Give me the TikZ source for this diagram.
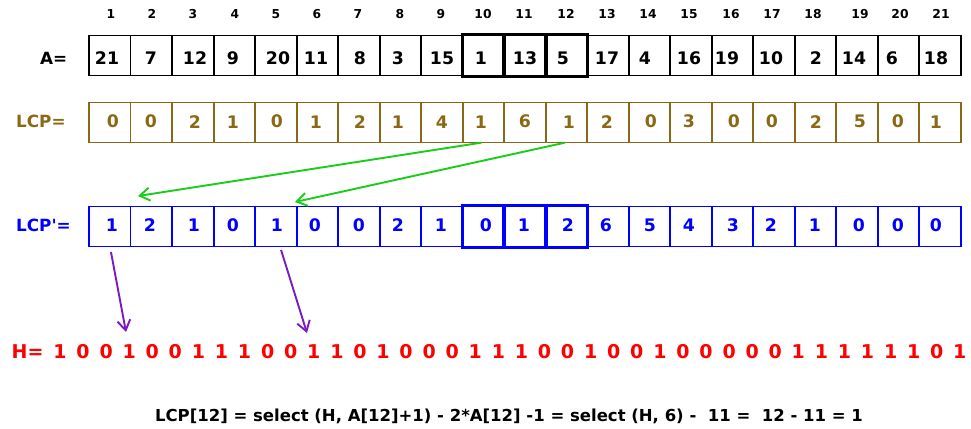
\documentclass[tikz,border=0pt]{standalone}
\usepackage{fontspec}
\setmainfont[Ligatures=TeXOff]{DejaVu Sans}
\usetikzlibrary{arrows.meta}
\definecolor{lcpbrown}{RGB}{139,105,20}
\definecolor{lcpblue}{RGB}{0,0,255}
\definecolor{hred}{RGB}{255,0,0}
\definecolor{mapgreen}{RGB}{25,205,25}
\definecolor{mappurple}{RGB}{125,25,195}
\begin{document}
\begin{tikzpicture}[x=1pt,y=-1pt,
  cellbox/.style={draw, line width=1.9pt, minimum width=41.52pt, minimum height=40pt, inner sep=0pt},
  thickcell/.style={line width=2.3pt},
  idx/.style={font=\bfseries\fontsize{12.3}{14}\selectfont, inner sep=0pt},
  val/.style={font=\bfseries\fontsize{17.3}{20}\selectfont, inner sep=0pt},
  rowlabel/.style={font=\bfseries\fontsize{16.8}{20}\selectfont, inner sep=0pt, anchor=west},
  link/.style={line width=1.9pt, -{Straight Barb[length=10pt,width=13pt]}},
]
\useasboundingbox (0,0) rectangle (971,428);

% position numbers
\foreach \x [count=\i] in {111,152,193,235,276,317,358,400,441,483,524,566,607,648,689,731,772,813,860,900,941}
  \node[idx] (i\i) at (\x,14.2) {\i};

% suffix array A
\node[rowlabel] (labA) at (40,58.5) {A=};
\foreach \i in {1,...,21}
  \node[cellbox] (a\i) at ({89+41.52*(\i-0.5)},55.5) {};
\foreach \i in {10,11,12}
  \draw[thickcell] (a\i.north west) rectangle (a\i.south east);
\foreach \v/\x [count=\i] in {21/107,7/151,12/195,9/233,20/278,11/316,8/360,3/398,15/442,1/481,13/525,5/563,17/607,4/645,16/689,19/727,10/771,2/816,14/854,6/892,18/936}
  \node[val] (av\i) at (\x,58) {\v};

% LCP array
\node[rowlabel, text=lcpbrown] (labL) at (16,121.5) {LCP=};
\foreach \i in {1,...,21}
  \node[cellbox, draw=lcpbrown] (l\i) at ({89+41.52*(\i-0.5)},122.5) {};
\foreach \v/\x [count=\i] in {0/113,0/151,2/195,1/233,0/277,1/316,2/360,1/398,4/442,1/481,6/525,1/569,2/607,0/651,3/689,0/734,0/772,2/816,5/860,0/898,1/936}
  \node[val, text=lcpbrown] (lv\i) at (\x,121.7) {\v};

% permuted LCP array
\node[rowlabel, text=lcpblue] (labP) at (16,225.5) {LCP'=};
\foreach \i in {1,...,21}
  \node[cellbox, draw=lcpblue] (p\i) at ({89+41.52*(\i-0.5)},226.5) {};
\foreach \i in {10,11,12}
  \draw[thickcell, lcpblue] (p\i.north west) rectangle (p\i.south east);
\foreach \v/\x [count=\i] in {1/112,2/150,1/194,0/233,1/277,0/315,0/359,2/398,1/441,0/486,1/524,2/568,6/606,5/650,4/689,3/733,2/771,1/815,0/859,0/898,0/936}
  \node[val, text=lcpblue] (pv\i) at (\x,225.5) {\v};

% bit vector H
\node[anchor=base west, inner sep=0pt, text=hred, font=\bfseries\fontsize{19}{22}\selectfont] (hbits) at (11.5,358.3)
  {\spaceskip=9.85pt H= 1 0 0 1 0 0 1 1 1 0 0 1 1 0 1 0 0 0 1 1 1 0 0 1 0 0 1 0 0 0 0 0 1 1 1 1 1 1 0 1};

% worked example
\node[anchor=base, inner sep=0pt, font=\bfseries\fontsize{16.5}{19}\selectfont] (formula) at (509,421.5)
  {LCP[12] = select (H, A[12]+1) - 2*A[12] -1 = select (H, 6) - \ 11 = \ 12 - 11 = 1};

% mapping arrows
\coordinate (g1) at (138,196);
\coordinate (g2) at (295,202);
\coordinate (h1) at (126,332);
\coordinate (h2) at (307,333);
\draw[link, mapgreen] ([xshift=-2pt,yshift=0.8pt]l10.south) -- (g1);
\draw[link, mapgreen] ([xshift=-1.5pt,yshift=0.8pt]l12.south) -- (g2);
\draw[link, mappurple] ([xshift=1.2pt,yshift=-4.5pt]p1.south) -- (h1);
\draw[link, mappurple] ([xshift=5.2pt,yshift=-2.5pt]p5.south) -- (h2);
\end{tikzpicture}
\end{document}
